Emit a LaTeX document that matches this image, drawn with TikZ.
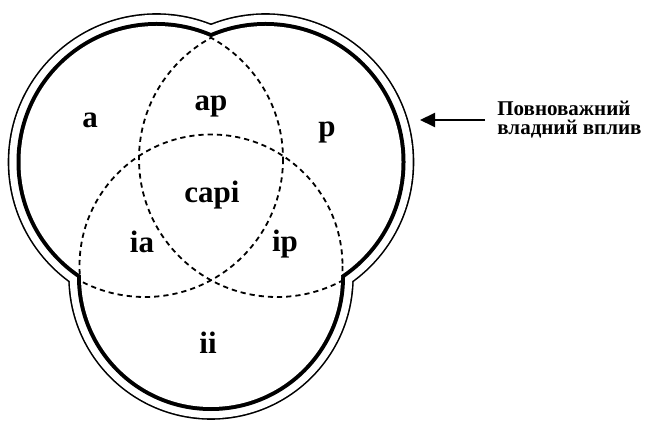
\documentclass[tikz,border=0pt]{standalone}
\usepackage{fontspec}
\setmainfont{Liberation Serif}
\usetikzlibrary{arrows.meta}

\begin{document}
\begin{tikzpicture}[x=0.5pt, y=-0.5pt,
  region/.style={font=\fontsize{15.5}{18}\selectfont\bfseries, anchor=base, inner sep=0pt},
  note/.style={font=\fontsize{10.5}{9.5}\selectfont\bfseries, align=left, anchor=west, inner sep=0pt},
  setline/.style={dash pattern=on 2.6pt off 2pt, line width=0.9pt},
  arrow/.style={-{Triangle[length=7.5pt,width=7pt]}, line width=1pt}
]
\useasboundingbox (0,0) rectangle (646,421);
% centres of the outline lobes
\coordinate (oA) at (156.5,162);
\coordinate (oP) at (265.5,162);
\coordinate (oI) at (211,277);
% outer thin line: stroke, then cover its inner half
\foreach \c/\r in {oA/147.2,oP/147.2,oI/141.2}
  \draw[line width=1.6pt] (\c) circle[radius=\r];
\fill[white] (oA) circle[radius=147.2] (oP) circle[radius=147.2] (oI) circle[radius=141.2];
% thick line, same way
\foreach \c/\r in {oA/136,oP/136,oI/130}
  \draw[line width=4pt] (\c) circle[radius=\r];
\fill[white] (oA) circle[radius=136] (oP) circle[radius=136] (oI) circle[radius=130];
% dotted sets: each one only inside the other two lobes
\coordinate (sA) at (145,159);
\coordinate (sP) at (277,159);
\coordinate (sI) at (211,266);
\begin{scope}
  \clip (oP) circle[radius=136] (oI) circle[radius=130];
  \draw[setline] (sA) circle[radius=138];
\end{scope}
\begin{scope}
  \clip (oA) circle[radius=136] (oI) circle[radius=130];
  \draw[setline] (sP) circle[radius=138];
\end{scope}
\begin{scope}
  \clip (oA) circle[radius=136] (oP) circle[radius=136];
  \draw[setline] (sI) circle[radius=131.5];
\end{scope}
% region labels
\node[region] (a) at (90,128) {a};
\node[region] (ap) at (211,111) {ap};
\node[region] (p) at (327,137) {p};
\node[region] (capi) at (212,203) {capi};
\node[region] (ia) at (142,253) {ia};
\node[region] (ip) at (285,252) {ip};
\node[region] (ii) at (208,353) {ii};
% side note with arrow
\node[note] (power) at (497,120) {Повноважний\\владний вплив};
\coordinate (tip) at (420,120);
\draw[arrow, shorten <=6pt] (power.west) -- (tip);
\end{tikzpicture}
\end{document}
